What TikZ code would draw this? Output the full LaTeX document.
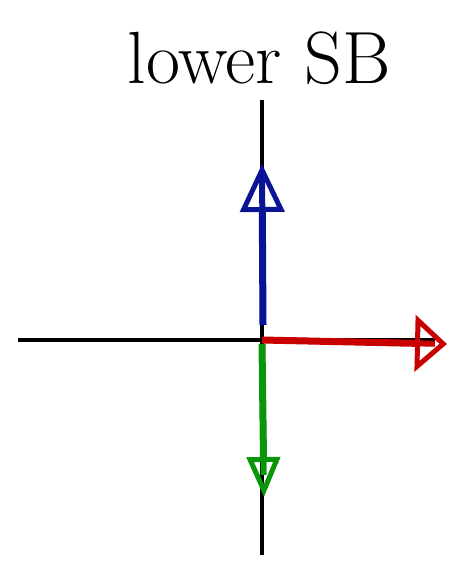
\documentclass[tikz,border=0pt]{standalone}
\usepackage{fontspec}
\usetikzlibrary{arrows.meta}
\definecolor{hblue}{RGB}{10,20,150}
\definecolor{hred}{RGB}{200,0,0}
\definecolor{hgreen}{RGB}{10,150,10}
\begin{document}
\begin{tikzpicture}[x=1pt,y=-1pt,
  axis/.style={line width=4.5pt,black},
  vec/.style={line width=7pt},
  shaft/.style={line width=6pt,shorten >=12pt}]
\useasboundingbox (0,0) rectangle (462,564);
\node[font=\fontsize{74}{80}\selectfont\addfontfeatures{FakeBold=2}] (title) at (259,58) {lower SB};
\coordinate (vt) at (262,100);
\coordinate (vb) at (262,555);
\coordinate (hl) at (18,340);
\coordinate (hr) at (435,340);
\draw[axis] (vt) -- (vb);
\draw[axis] (hl) -- (hr);
\coordinate (b0) at (263,325);
\coordinate (b1) at (262,164);
\coordinate (r0) at (262,340);
\coordinate (r1) at (447,344);
\coordinate (g0) at (262,344);
\coordinate (g1) at (264,497);
\draw[vec,hblue,-{Triangle[open,length=48pt,width=44pt,line width=5pt]}] (b0) -- (b1);
\draw[shaft,hblue] (b0) -- (b1);
\draw[vec,hred,-{Triangle[open,length=32pt,width=56pt,line width=5pt]}] (r0) -- (r1);
\draw[shaft,hred] (r0) -- (r1);
\draw[vec,hgreen,-{Triangle[open,length=40pt,width=33pt,line width=5pt]}] (g0) -- (g1);
\draw[shaft,hgreen,shorten >=22pt] (g0) -- (g1);
\end{tikzpicture}
\end{document}
